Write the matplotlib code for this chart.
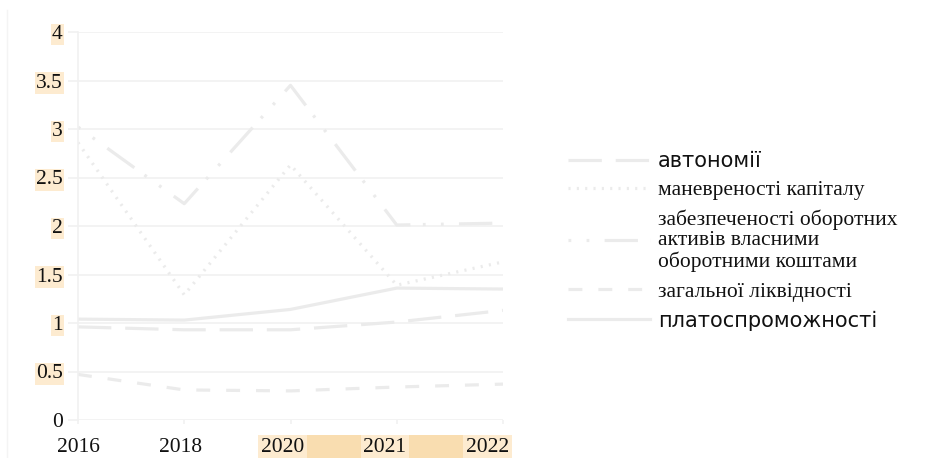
# Коефіцієнти фінансової стійкості, 2016-2022

import matplotlib
matplotlib.use("Agg")
import matplotlib.pyplot as plt
from matplotlib.patches import Rectangle
from matplotlib.lines import Line2D

plt.rcParams["lines.scale_dashes"] = False

years = ["2016", "2018", "2020", "2021", "2022"]
avtonomii = [0.96, 0.93, 0.93, 1.01, 1.13]
manevrenosti = [2.86, 1.29, 2.63, 1.39, 1.63]
zabezpechenosti = [3.02, 2.23, 3.45, 2.01, 2.03]
likvidnosti = [0.47, 0.31, 0.30, 0.34, 0.37]
platospromozhnosti = [1.04, 1.03, 1.14, 1.36, 1.35]

labels = ["автономії", "маневреності капіталу",
          "забезпеченості оборотних\nактивів власними\nоборотними коштами",
          "загальної ліквідності", "платоспроможності"]

line_col = "#ebebeb"
grid_col = "#f1f1f1"
hl_light = "#fdebd0"
hl_dark = "#f9ddb0"
serif = "Liberation Serif"

fig = plt.figure(figsize=(9.47, 4.58), dpi=100)
ax = fig.add_axes([78 / 947, 38 / 458, 425 / 947, 388 / 458])

x = list(range(len(years)))
lw = 2.3
ax.plot(x, avtonomii, color=line_col, lw=lw, linestyle=(0, (24, 10)), label=labels[0])
ax.plot(x, manevrenosti, color=line_col, lw=lw, linestyle=(0, (1.5, 4.5)), label=labels[1])
ax.plot(x, zabezpechenosti, color=line_col, lw=lw,
        linestyle=(0, (2, 11, 2, 11, 24, 9)), label=labels[2])
ax.plot(x, likvidnosti, color=line_col, lw=lw, linestyle=(0, (10, 11.5)), label=labels[3])
ax.plot(x, platospromozhnosti, color=line_col, lw=lw, label=labels[4])

ax.set_xlim(0, 4)
ax.set_ylim(0, 4)
ax.set_yticks([i * 0.5 for i in range(9)])
ax.set_yticklabels(["0", "0.5", "1", "1.5", "2", "2.5", "3", "3.5", "4"])
ax.set_xticks(x)
ax.set_xticklabels([])

for s in ["top", "right", "bottom"]:
    ax.spines[s].set_visible(False)
ax.spines["left"].set_color(grid_col)
ax.spines["left"].set_linewidth(1.2)
ax.yaxis.grid(True, color=grid_col, lw=1.2)
ax.set_axisbelow(True)
ax.tick_params(axis="y", length=7, color=grid_col, width=1.2, pad=4)
ax.tick_params(axis="x", length=3, color=grid_col, width=1.2)

# year labels sit slightly left of their ticks in the original
lab = ax.twiny()
lab.set_xlim(0.0387, 4.155)
lab.set_xticks(x)
lab.set_xticklabels(years)
lab.xaxis.set_ticks_position("bottom")
lab.xaxis.set_label_position("bottom")
lab.tick_params(axis="x", length=0, pad=13)
for s in lab.spines.values():
    s.set_visible(False)

for t in ax.get_yticklabels() + lab.get_xticklabels():
    t.set_fontfamily(serif)
    t.set_fontsize(15.5)
    t.set_color("#111111")

for t in ax.get_yticklabels()[1:]:
    t.set_bbox(dict(facecolor=hl_light, edgecolor="none", pad=1))
for t in lab.get_xticklabels()[2:]:
    t.set_bbox(dict(facecolor=hl_light, edgecolor="none", pad=2))
    t.set_zorder(5)

leg = ax.legend(loc="center left", bbox_to_anchor=(568 / 947, (458 - 241) / 458),
                bbox_transform=fig.transFigure, frameon=False,
                handlelength=3.8, handletextpad=0.38, labelspacing=0.42,
                fontsize=15.5, borderaxespad=0, borderpad=0)
for i, t in enumerate(leg.get_texts()):
    if i in (0, 4):
        t.set_fontfamily("DejaVu Sans")
        t.set_fontsize(15)
    else:
        t.set_fontfamily(serif)
        t.set_fontsize(15.5)
    t.set_color("#111111")
    t.set_linespacing(1.1)

# band behind 2020-2022 labels
fig.canvas.draw()
r = fig.canvas.get_renderer()
b0 = lab.get_xticklabels()[2].get_bbox_patch().get_window_extent(r)
b1 = lab.get_xticklabels()[4].get_bbox_patch().get_window_extent(r)
fig.add_artist(Rectangle((b0.x0 / 947, b0.y0 / 458),
                         (b1.x1 - b0.x0) / 947, b0.height / 458,
                         transform=fig.transFigure, facecolor=hl_dark,
                         edgecolor="none", zorder=0))
fig.add_artist(Line2D([7 / 947, 7 / 947], [0, 448 / 458], color="#f4f4f4",
                      lw=1, transform=fig.transFigure))

fig.savefig("out.png", dpi=100, facecolor="white")
print("chart saved")
